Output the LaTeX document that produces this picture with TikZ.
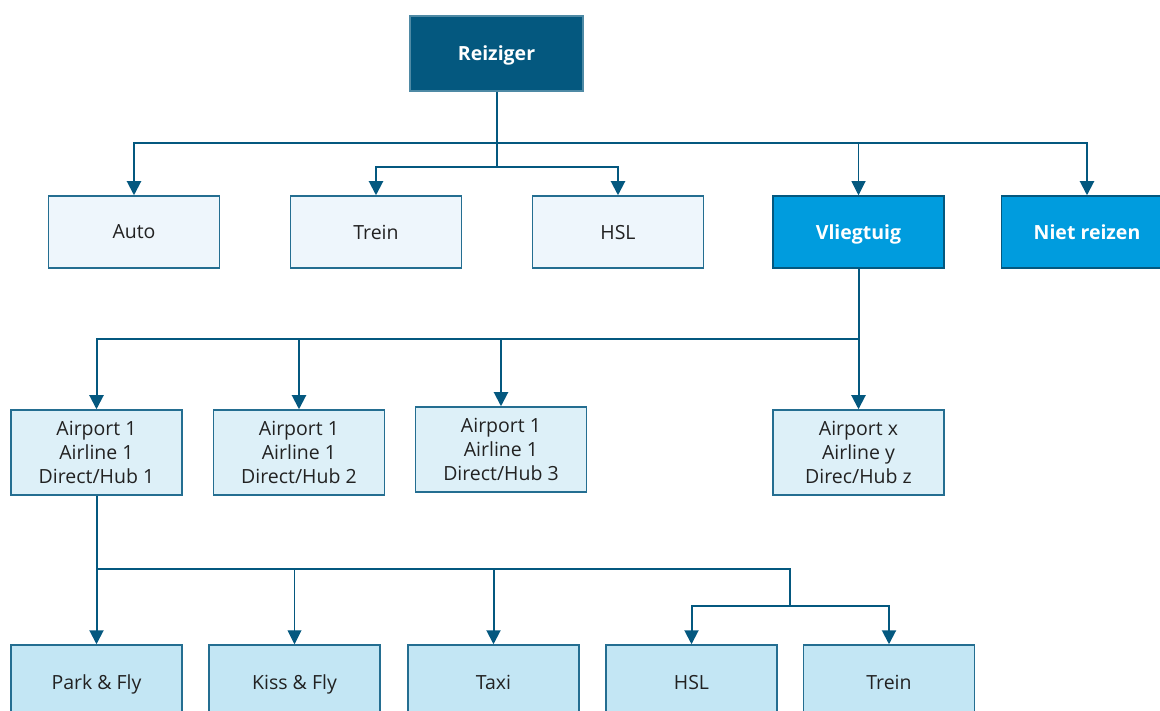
\documentclass[tikz,border=0pt]{standalone}
\usepackage{fontspec}
\setmainfont{Open Sans}
\usetikzlibrary{arrows.meta}
\definecolor{navy}{RGB}{4,88,127}
\definecolor{sky}{RGB}{0,156,222}
\definecolor{edge}{RGB}{36,110,145}
\definecolor{fillA}{RGB}{238,246,252}
\definecolor{fillB}{RGB}{221,240,248}
\definecolor{fillC}{RGB}{195,230,244}
\definecolor{ink}{RGB}{34,34,34}
\tikzset{
  box/.style={draw=edge, line width=1.5pt, minimum width=171pt, align=center,
    inner sep=0pt, font=\fontsize{19.5}{24}\selectfont, text=ink},
  oneline/.style={text depth=0pt},
  toprow/.style={box, oneline, fill=fillA, minimum height=72pt},
  midrow/.style={box, fill=fillB, minimum height=85pt},
  lowrow/.style={box, oneline, fill=fillC, minimum height=75pt},
  keybox/.style={box, oneline, draw=navy, fill=sky, text=white, minimum height=72pt,
    font=\fontsize{19.5}{24}\selectfont\bfseries},
  rootbox/.style={box, oneline, draw=navy!70, fill=navy, text=white, minimum width=173pt,
    minimum height=75pt, font=\fontsize{19.5}{24}\selectfont\bfseries},
  conn/.style={draw=navy, line width=2pt},
  arr/.style={conn, -{Triangle[width=14pt,length=14pt]}},
  thinarr/.style={arr, line width=1pt},
}
\begin{document}
\begin{tikzpicture}[x=1pt,y=-1pt]
\useasboundingbox (0,0) rectangle (1160,711);
\begin{scope}
\clip (0,0) rectangle (1160,711);

% top level
\node[rootbox] (reiziger) at (496.5,53.5) {Reiziger};

% first row
\node[toprow] (auto)   at (134,232)   {Auto};
\node[toprow] (trein)  at (376,232)   {Trein};
\node[toprow] (hsl)    at (618,232)   {HSL};
\node[keybox] (vlieg)  at (858.5,232) {Vliegtuig};
\node[keybox] (niet)   at (1087,232)  {Niet reizen};

% second row
\node[midrow] (a1) at (96.5,452.5) {Airport 1\\Airline 1\\Direct/Hub 1};
\node[midrow] (a2) at (299,452.5)  {Airport 1\\Airline 1\\Direct/Hub 2};
\node[midrow] (a3) at (501,449.5)  {Airport 1\\Airline 1\\Direct/Hub 3};
\node[midrow] (ax) at (858.5,452.5){Airport x\\Airline y\\Direc/Hub z};

% third row
\node[lowrow] (pf)     at (96.5,682.5)  {Park \& Fly};
\node[lowrow] (kf)     at (294.5,682.5) {Kiss \& Fly};
\node[lowrow] (taxi)   at (493.5,682.5) {Taxi};
\node[lowrow] (hsl2)   at (691.5,682.5) {HSL};
\node[lowrow] (trein2) at (889,682.5)   {Trein};

% junctions
\coordinate (j1) at (496.5,143);
\coordinate (j2) at (496.5,167);
\coordinate (j3) at (858.5,339);
\coordinate (j4) at (96.5,569);
\coordinate (j5) at (790,569);
\coordinate (j6) at (790,606);

% connectors from Reiziger
\draw[conn] (reiziger.south) -- (j2);
\draw[arr] (j1) -| (auto.north);
\draw[arr] (j1) -| (niet.north);
\draw[thinarr] (j1 -| vlieg.north) -- (vlieg.north);
\draw[arr] (j2) -| (trein.north);
\draw[arr] (j2) -| (hsl.north);

% connectors from Vliegtuig
\draw[conn] (vlieg.south) -- (j3);
\draw[arr] (j3) -| (a1.north);
\draw[arr] (j3 -| a2.north) -- (a2.north);
\draw[arr] (j3 -| a3.north) -- (a3.north);
\draw[arr] (j3) -- (ax.north);

% connectors from Airport 1
\draw[arr] (a1.south) -- (pf.north);
\draw[conn] (j4) -- (j5) -- (j6);
\draw[thinarr] (j4 -| kf.north) -- (kf.north);
\draw[arr] (j4 -| taxi.north) -- (taxi.north);
\draw[arr] (j6) -| (hsl2.north);
\draw[arr] (j6) -| (trein2.north);
\end{scope}
\end{tikzpicture}
\end{document}
